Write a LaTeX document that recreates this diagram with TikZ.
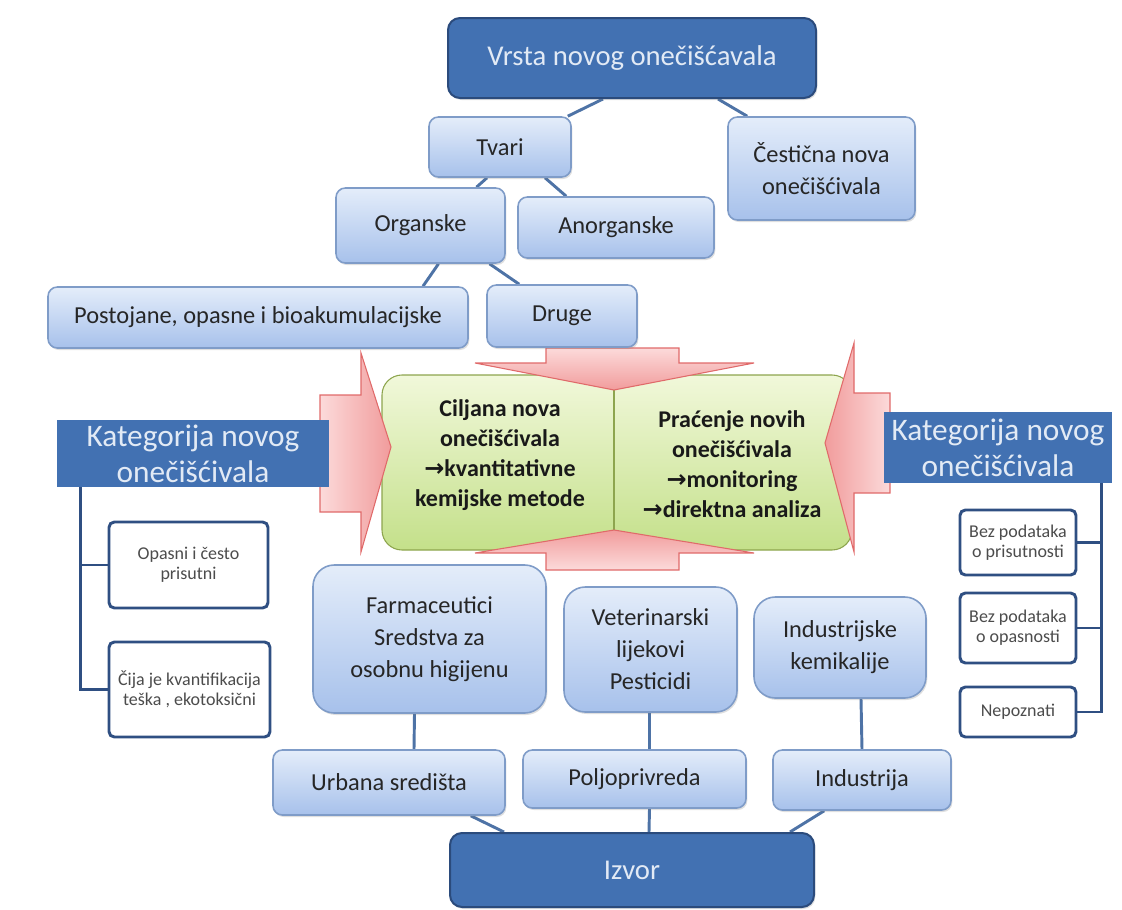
\documentclass[tikz,border=0pt]{standalone}
\usepackage{fontspec}
\setmainfont{Carlito}
\newfontfamily\arrowfont{DejaVu Sans}
\usetikzlibrary{calc,shadows,backgrounds}

\definecolor{boxtop}{HTML}{E4EDFA}
\definecolor{boxbot}{HTML}{A7C1EB}
\definecolor{boxline}{HTML}{7F9CC8}
\definecolor{darkfill}{HTML}{4271B2}
\definecolor{darkline}{HTML}{2B4B7C}
\definecolor{darktext}{HTML}{E2EAF5}
\definecolor{linkblue}{HTML}{4E73A6}
\definecolor{treeblue}{HTML}{2F4F82}
\definecolor{greentop}{HTML}{F1F8DA}
\definecolor{greenbot}{HTML}{C4E08A}
\definecolor{greenline}{HTML}{8DA54E}
\definecolor{pinklight}{HTML}{FCDADA}
\definecolor{pinkdark}{HTML}{F19C9C}
\definecolor{pinkline}{HTML}{E06A6A}

\tikzset{
	boxwh/.style 2 args={minimum width=#1*0.75pt, minimum height=#2*0.75pt},
	lbox/.style={draw=boxline, line width=1.2pt, top color=boxtop, bottom color=boxbot, rounded corners=7pt, align=center, inner sep=2pt, text=black!85, font=\fontsize{18.3}{24}\selectfont, drop shadow={shadow xshift=1pt, shadow yshift=-1.5pt, opacity=0.25}},
	bigbox/.style={lbox, rounded corners=16pt},
	dbox/.style={draw=darkline, line width=1.5pt, fill=darkfill, rounded corners=9pt, text=darktext, font=\fontsize{21.5}{25}\selectfont, drop shadow={shadow xshift=1pt, shadow yshift=-1.5pt, opacity=0.25}},
	katbar/.style={fill=darkfill, text=darktext, align=center, inner sep=0pt, font=\fontsize{23.5}{27}\selectfont},
	wbox/.style={draw=treeblue, line width=2.2pt, fill=white, rounded corners=4pt, align=center, inner sep=1pt, text=black!70, font=\fontsize{13.5}{15}\selectfont},
	greentext/.style={align=center, text=black!90, font=\bfseries\fontsize{18}{22.5}\selectfont},
	pinkarrow/.style={draw=pinkline, line width=0.8pt},
	link/.style={draw=linkblue, line width=2.2pt},
	tree/.style={draw=treeblue, line width=2.2pt}
}

\begin{document}
\begin{tikzpicture}[x=0.75pt, y=-0.75pt]
	\useasboundingbox (0,0) rectangle (1122,910);

	\draw[greenline, line width=0.8pt, top color=greentop, bottom color=greenbot, rounded corners=15pt] (382,375) rectangle (852,550);
	\draw[greenline, line width=0.8pt] (614,388) -- (614,532);

	\draw[pinkarrow, left color=pinklight, right color=pinkdark] (320,395) -- (361,395) -- (361,353) -- (391,447) -- (361,552) -- (361,512) -- (320,512) -- cycle;
	\draw[pinkarrow, left color=pinkdark, right color=pinklight] (890,393) -- (854,393) -- (854,343) -- (825,443) -- (854,552) -- (854,493) -- (890,493) -- cycle;
	\draw[pinkarrow, top color=pinklight, bottom color=pinkdark] (546,348) -- (679,348) -- (679,363) -- (754,363) -- (614,390) -- (475,363) -- (546,363) -- cycle;
	\draw[pinkarrow, top color=pinkdark, bottom color=pinklight] (614,530) -- (754,553) -- (679,553) -- (679,570) -- (546,570) -- (546,553) -- (475,553) -- cycle;

	\node[greentext] (ciljana) at (500,455) {Ciljana nova\\onečišćivala\\{\arrowfont →}kvantitativne\\kemijske metode};
	\node[greentext] (pracenje) at (732,464) {Praćenje novih\\onečišćivala\\{\arrowfont →}monitoring\\{\arrowfont →}direktna analiza};

	\node[dbox, boxwh={368}{80}] (vrsta) at (632,58) {Vrsta novog onečišćavala};
	\node[lbox, boxwh={142}{60}] (tvari) at (500,147) {Tvari};
	\node[lbox, boxwh={187}{103}] (cest) at (821.5,168.5) {Čestična nova\\onečišćivala};
	\node[lbox, boxwh={169}{75}] (org) at (420.5,225.5) {Organske};
	\node[lbox, boxwh={196}{61}] (anorg) at (616,227.5) {Anorganske};
	\node[lbox, boxwh={420}{61}] (post) at (258,317.5) {Postojane, opasne i bioakumulacijske};
	\node[lbox, boxwh={150}{62}] (druge) at (562,316) {Druge};

	\node[katbar, boxwh={272}{67}] (katL) at (193,453.5) {Kategorija novog\\onečišćivala};
	\node[katbar, boxwh={228}{71}] (katR) at (998,447.5) {Kategorija novog\\onečišćivala};

	\node[wbox, boxwh={159}{86}] (opasni) at (188.5,565) {Opasni i često\\prisutni};
	\node[wbox, boxwh={161}{95}] (cija) at (189.5,689.5) {Čija je kvantifikacija\\teška , ekotoksični};
	\node[wbox, boxwh={116}{65}] (bezp) at (1018,542.5) {Bez podataka\\o prisutnosti};
	\node[wbox, boxwh={116}{70}] (bezo) at (1018,628) {Bez podataka\\o opasnosti};
	\node[wbox, boxwh={116}{50}] (nepo) at (1018,712) {Nepoznati};

	\node[bigbox, boxwh={233}{148}] (farm) at (429.5,639) {Farmaceutici\\Sredstva za\\osobnu higijenu};
	\node[bigbox, boxwh={173}{125}] (vet) at (650.5,649.5) {Veterinarski\\lijekovi\\Pesticidi};
	\node[bigbox, boxwh={172}{101}] (indk) at (840,647.5) {Industrijske\\kemikalije};
	\node[lbox, boxwh={232}{65}] (urb) at (389,782.5) {Urbana središta};
	\node[lbox, boxwh={223}{58}] (polj) at (634.5,779) {Poljoprivreda};
	\node[lbox, boxwh={178}{60}] (indu) at (862,780) {Industrija};
	\node[dbox, boxwh={364}{74}] (izvor) at (632,870) {Izvor};

	\begin{scope}[on background layer]
		\draw[link] ($(vrsta.south)+(-29,0)$) -- ($(tvari.north east)+(-4,0)$);
		\draw[link] ($(vrsta.south)+(86,0)$) -- ($(cest.north west)+(20,0)$);
		\draw[link] ($(tvari.south)+(-13,0)$) -- ($(org.north)+(56,0)$);
		\draw[link] ($(tvari.south)+(45,0)$) -- ($(anorg.north west)+(49,0)$);
		\draw[link] ($(org.south)+(18,0)$) -- ($(post.north)+(165,0)$);
		\draw[link] ($(org.south)+(69,0)$) -- ($(druge.north west)+(33,0)$);
		\draw[tree] ($(katL.south west)+(24,0)$) |- (cija.west);
		\draw[tree] ($(katL.south west)+(24,0)$) |- (opasni.west);
		\draw[tree] ($(katR.south east)+(-11,0)$) |- (nepo.east);
		\draw[tree] ($(katR.south east)+(-11,0)$) |- (bezo.east);
		\draw[tree] ($(katR.south east)+(-11,0)$) |- (bezp.east);
		\draw[link] ($(farm.south)+(-15,0)$) -- ($(urb.north)+(25,0)$);
		\draw[link] ($(urb.south east)+(-35,0)$) -- ($(izvor.north west)+(55,0)$);
		\draw[link] ($(vet.south)+(-1,0)$) -- ($(polj.north)+(15,0)$);
		\draw[link] ($(polj.south)+(15,0)$) -- ($(izvor.north)+(17,0)$);
		\draw[link] ($(indk.south)+(21,0)$) -- (indu.north);
		\draw[link] ($(indu.south west)+(52,0)$) -- ($(izvor.north east)+(-25,0)$);
	\end{scope}
\end{tikzpicture}
\end{document}
